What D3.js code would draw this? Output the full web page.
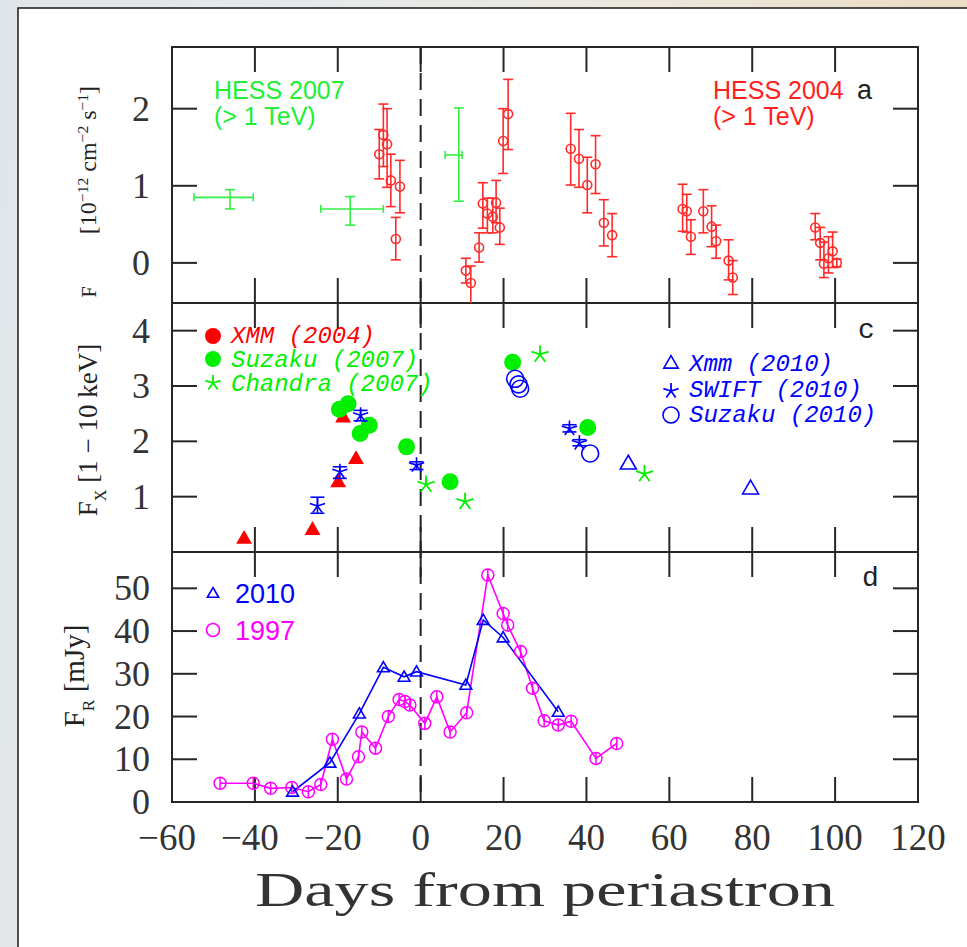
<!DOCTYPE html>
<html>
<head>
<meta charset="utf-8">
<script src="https://cdn.jsdelivr.net/npm/d3@7"></script>
<style>
  html, body { margin: 0; padding: 0; }
  body { width: 967px; height: 947px; overflow: hidden;
    background: linear-gradient(100deg, #dfe5e9 0%, #e6e9ea 30%, #ece6da 60%, #e9d5b6 100%); }
  svg { display: block; }
</style>
</head>
<body>
<svg id="chart"></svg>
<script>
// ---- data ----
const xTicks = [-60, -40, -20, 0, 20, 40, 60, 80, 100, 120];

// panel a: HESS 2004 [day, flux, lo, hi]
const hess2004 = [
  [-10.0, 1.41, 1.09, 1.73], [-9.0, 1.66, 1.25, 2.06], [-8.1, 1.54, 0.98, 2.00],
  [-7.2, 1.07, 0.73, 1.41], [-6.0, 0.31, 0.04, 0.59], [-5.0, 0.99, 0.65, 1.33],
  [10.9, -0.10, -0.26, 0.06], [12.1, -0.26, -0.55, -0.04], [14.1, 0.20, 0.01, 0.39],
  [15.0, 0.77, 0.45, 1.04], [16.1, 0.64, 0.39, 0.84], [17.4, 0.60, 0.39, 0.84],
  [18.2, 0.78, 0.52, 1.07], [19.1, 0.46, 0.24, 0.71], [19.9, 1.58, 1.16, 2.00],
  [21.1, 1.93, 1.47, 2.38], [36.2, 1.48, 1.01, 1.94], [38.2, 1.35, 0.98, 1.73],
  [40.2, 1.01, 0.65, 1.37], [42.2, 1.28, 0.90, 1.65], [44.2, 0.52, 0.22, 0.82],
  [46.2, 0.36, 0.08, 0.64], [63.2, 0.70, 0.41, 1.02], [64.2, 0.67, 0.40, 0.89],
  [65.2, 0.34, 0.11, 0.56], [68.2, 0.67, 0.39, 0.95], [70.2, 0.47, 0.21, 0.74],
  [71.3, 0.28, 0.06, 0.49], [74.3, 0.03, -0.22, 0.30], [75.3, -0.19, -0.41, 0.03],
  [95.2, 0.46, 0.30, 0.64], [96.4, 0.26, 0.04, 0.46], [97.3, -0.01, -0.19, 0.27],
  [98.4, 0.06, -0.13, 0.34], [99.4, 0.15, -0.06, 0.40], [100.4, 0.00, -0.05, 0.05]
];
// panel a: HESS 2007 [day, dayLo, dayHi, flux, lo, hi]
const hess2007 = [
  [-46.0, -54.7, -40.4, 0.85, 0.70, 0.95],
  [-17.0, -24.1, -9.0, 0.70, 0.49, 0.86],
  [9.2, 5.9, 10.0, 1.40, 0.80, 2.01]
];
const aTicks = [0, 1, 2];

// panel c: X-ray flux
const xmm2004 = [[-42.6, 0.25], [-26.1, 0.41], [-19.9, 1.27], [-18.7, 2.44], [-15.6, 1.69]];
const suzaku2007 = [[-19.6, 2.58], [-17.5, 2.68], [-14.6, 2.14], [-12.4, 2.29], [-3.4, 1.90],
  [7.1, 1.27], [22.2, 3.43], [40.3, 2.25]];
const chandra2007 = [[1.3, 1.22], [10.7, 0.91], [28.8, 3.57], [54.0, 1.41]];
const swift2010 = [[-24.9, 0.83, 0.70, 0.99], [-19.5, 1.45, 1.33, 1.54], [-14.5, 2.47, 2.37, 2.56],
  [-1.0, 1.57, 1.49, 1.63], [35.9, 2.23, 2.17, 2.30], [38.3, 1.97, 1.92, 2.03]];
const xmm2010 = [[50.1, 1.60], [79.6, 1.15]];
const suzaku2010 = [[22.8, 3.13], [23.6, 3.03], [24.0, 2.95], [40.9, 1.78]];
const cTicks = [1, 2, 3, 4];

// panel d: radio flux (mJy)
const radio2010 = [[-30.9, 2.4], [-21.9, 9.2], [-14.8, 20.7], [-9.0, 31.5], [-4.0, 29.3],
  [-1.0, 30.5], [10.9, 27.4], [15.1, 42.6], [19.9, 38.5], [33.2, 21.1]];
const radio1997 = [[-48.4, 4.4], [-40.4, 4.4], [-36.2, 3.2], [-31.1, 3.4], [-27.1, 2.4],
  [-24.1, 4.1], [-21.3, 14.7], [-17.9, 5.4], [-15.0, 10.6], [-14.2, 16.4], [-10.9, 12.6],
  [-7.8, 20.0], [-5.2, 24.0], [-3.8, 23.5], [-2.6, 22.7], [1.0, 18.4], [3.9, 24.6],
  [7.1, 16.4], [11.1, 20.9], [16.2, 53.1], [19.9, 44.1], [21.0, 41.4], [24.1, 35.2],
  [27.0, 26.6], [29.8, 19.0], [33.2, 18.0], [36.3, 18.9], [42.3, 10.2], [47.3, 13.7]];
const dTicks = [10, 20, 30, 40, 50];
const dLabels = [0, 10, 20, 30, 40, 50];

// ---- layout ----
const width = 967;
const height = 947;
const left = 172, right = 918;
const tickLen = 25;
const frameColor = "#262626";
const RED = "#ff0000", GREEN = "#00f000", BLUE = "#0000ff", MAGENTA = "#ff00ff";

const xScale = d3.scaleLinear().domain([-60, 120]).range([left, right]);
const yA = d3.scaleLinear().domain([-0.52, 2.8]).range([303, 47]);
const yC = d3.scaleLinear().domain([0, 4.5]).range([552, 303]);
const yD = d3.scaleLinear().domain([0, 58.5]).range([802, 552]);

const svg = d3.select("#chart").attr("width", width).attr("height", height);

// white page with dark border
svg.append("rect").attr("x", 18).attr("y", 8).attr("width", 960).attr("height", 950)
  .attr("fill", "#fff").attr("stroke", "#1a1a1a").attr("stroke-width", 1.5);

function clipFor(id, y) {
  svg.append("clipPath").attr("id", id).append("rect")
    .attr("x", left).attr("y", y.range()[1]).attr("width", right - left)
    .attr("height", y.range()[0] - y.range()[1]);
}

function drawFrame(y, ticks) {
  const g = svg.append("g").attr("stroke", frameColor).attr("stroke-width", 2);
  const top = y.range()[1], bot = y.range()[0];
  g.selectAll("line.xt").data(xTicks.slice(1, -1)).join("line")
    .attr("x1", d => xScale(d)).attr("x2", d => xScale(d))
    .attr("y1", top).attr("y2", top + tickLen);
  g.selectAll("line.xb").data(xTicks.slice(1, -1)).join("line")
    .attr("class", "xb")
    .attr("x1", d => xScale(d)).attr("x2", d => xScale(d))
    .attr("y1", bot).attr("y2", bot - tickLen);
  g.selectAll("line.yl").data(ticks).join("line")
    .attr("class", "yl")
    .attr("x1", left).attr("x2", left + tickLen)
    .attr("y1", d => y(d)).attr("y2", d => y(d));
  g.selectAll("line.yr").data(ticks).join("line")
    .attr("class", "yr")
    .attr("x1", right).attr("x2", right - tickLen)
    .attr("y1", d => y(d)).attr("y2", d => y(d));
  g.append("rect").attr("x", left).attr("y", top)
    .attr("width", right - left).attr("height", bot - top).attr("fill", "none");
}

drawFrame(yA, aTicks);
drawFrame(yC, cTicks);
drawFrame(yD, dTicks);
clipFor("clipA", yA);

// periastron dashed line
svg.append("line")
  .attr("x1", xScale(0)).attr("x2", xScale(0))
  .attr("y1", yA.range()[1]).attr("y2", yD.range()[0])
  .attr("stroke", "#222").attr("stroke-width", 2)
  .attr("stroke-dasharray", "17,9");

// ---- tick labels ----
const tickFont = "'Liberation Serif', 'Times New Roman', serif";
const fmt = d => d < 0 ? "\u2212" + Math.abs(d) : String(d);

svg.append("g").selectAll("text").data(xTicks).join("text")
  .attr("x", d => xScale(d) + (d < 0 ? -5 : 0)).attr("y", 850)
  .attr("text-anchor", "middle")
  .attr("font-family", tickFont).attr("font-size", 37).attr("fill", "#333")
  .text(fmt);

function yLabels(y, values) {
  svg.append("g").selectAll("text").data(values).join("text")
    .attr("x", 150).attr("y", d => y(d) + 12)
    .attr("text-anchor", "end")
    .attr("font-family", tickFont).attr("font-size", 36).attr("fill", "#333")
    .text(d => d);
}
yLabels(yA, aTicks);
yLabels(yC, cTicks);
yLabels(yD, dLabels);

// axis title
svg.append("text")
  .attr("x", 545).attr("y", 906)
  .attr("text-anchor", "middle")
  .attr("font-family", tickFont).attr("font-size", 48).attr("fill", "#333")
  .attr("textLength", 580).attr("lengthAdjust", "spacingAndGlyphs")
  .text("Days from periastron");

// y titles (rotated)
function rotLabel(x, y, size, parts, weight) {
  const t = svg.append("text")
    .attr("transform", `translate(${x},${y}) rotate(-90)`)
    .attr("text-anchor", "middle")
    .attr("font-family", tickFont).attr("font-size", size).attr("fill", "#222")
    .attr("font-weight", weight || "normal");
  parts.forEach(p => {
    const s = t.append("tspan").text(p.t);
    if (p.sup) s.attr("baseline-shift", "super").attr("font-size", size * 0.65);
    if (p.sub) s.attr("baseline-shift", "sub").attr("font-size", size * 0.6);
  });
}
rotLabel(96, 292, 20, [{t: "F"}]);
rotLabel(96, 160, 24, [
  {t: "[10"}, {t: "\u221212", sup: true}, {t: " cm"}, {t: "\u22122", sup: true},
  {t: " s"}, {t: "\u22121", sup: true}, {t: "]"}]);
rotLabel(97, 430, 27, [
  {t: "F"}, {t: "X", sub: true}, {t: " [1 \u2212 10 keV]"}]);
rotLabel(84, 676, 29, [
  {t: "F"}, {t: "R", sub: true}, {t: " [mJy]"}]);

// ---- panel a ----
const gA = svg.append("g").attr("clip-path", "url(#clipA)");
const capA = 5;
gA.selectAll("g.e4").data(hess2004).join("g").each(function (d) {
  const g = d3.select(this);
  const x = xScale(d[0]);
  g.append("line").attr("x1", x).attr("x2", x).attr("y1", yA(d[2])).attr("y2", yA(d[3]));
  g.append("line").attr("x1", x - capA).attr("x2", x + capA).attr("y1", yA(d[2])).attr("y2", yA(d[2]));
  g.append("line").attr("x1", x - capA).attr("x2", x + capA).attr("y1", yA(d[3])).attr("y2", yA(d[3]));
  g.append("circle").attr("cx", x).attr("cy", yA(d[1])).attr("r", 4.5).attr("fill", "none");
}).attr("stroke", "#ff2a2a").attr("stroke-width", 1.6);

gA.selectAll("g.e7").data(hess2007).join("g").each(function (d) {
  const g = d3.select(this);
  const x = xScale(d[0]), y = yA(d[3]);
  g.append("line").attr("x1", xScale(d[1])).attr("x2", xScale(d[2])).attr("y1", y).attr("y2", y);
  g.append("line").attr("x1", xScale(d[1])).attr("x2", xScale(d[1])).attr("y1", y - 4).attr("y2", y + 4);
  g.append("line").attr("x1", xScale(d[2])).attr("x2", xScale(d[2])).attr("y1", y - 4).attr("y2", y + 4);
  g.append("line").attr("x1", x).attr("x2", x).attr("y1", yA(d[4])).attr("y2", yA(d[5]));
  g.append("line").attr("x1", x - 5).attr("x2", x + 5).attr("y1", yA(d[4])).attr("y2", yA(d[4]));
  g.append("line").attr("x1", x - 5).attr("x2", x + 5).attr("y1", yA(d[5])).attr("y2", yA(d[5]));
}).attr("stroke", "#33ee44").attr("stroke-width", 1.6);

const sansFont = "'Liberation Sans', Arial, sans-serif";
function label(x, y, txt, color, size, family, style) {
  svg.append("text").attr("x", x).attr("y", y).text(txt)
    .attr("fill", color).attr("font-size", size)
    .attr("font-family", family || sansFont)
    .attr("font-style", style || "normal");
}
label(214, 99, "HESS 2007", "#22ee33", 25);
label(214, 125, "(> 1 TeV)", "#22ee33", 25);
label(713, 99, "HESS 2004", "#ff2020", 25);
label(713, 125, "(> 1 TeV)", "#ff2020", 25);
label(857, 99, "a", "#222", 27);

// ---- panel c ----
const star5 = (cx, cy, r) => {
  let p = "";
  for (let i = 0; i < 5; i++) {
    const a = (-90 + i * 72) * Math.PI / 180;
    p += `M${cx},${cy}L${cx + r * Math.cos(a)},${cy + r * Math.sin(a)}`;
  }
  return p;
};
const tri = d3.symbol().type(d3.symbolTriangle);

svg.append("g").selectAll("path").data(xmm2004).join("path")
  .attr("transform", d => `translate(${xScale(d[0])},${yC(d[1]) + 1})`)
  .attr("d", tri.size(110)).attr("fill", RED);

svg.append("g").selectAll("circle").data(suzaku2007).join("circle")
  .attr("cx", d => xScale(d[0])).attr("cy", d => yC(d[1])).attr("r", 8.5)
  .attr("fill", GREEN);

svg.append("g").selectAll("path").data(chandra2007).join("path")
  .attr("d", d => star5(xScale(d[0]), yC(d[1]), 9))
  .attr("stroke", GREEN).attr("stroke-width", 1.8).attr("fill", "none");

svg.append("g").selectAll("g").data(swift2010).join("g").each(function (d) {
  const g = d3.select(this);
  const x = xScale(d[0]);
  g.append("path").attr("d", star5(x, yC(d[1]), 8));
  g.append("line").attr("x1", x).attr("x2", x).attr("y1", yC(d[2])).attr("y2", yC(d[3]));
  g.append("line").attr("x1", x - 7).attr("x2", x + 7).attr("y1", yC(d[2])).attr("y2", yC(d[2]));
  g.append("line").attr("x1", x - 7).attr("x2", x + 7).attr("y1", yC(d[3])).attr("y2", yC(d[3]));
}).attr("stroke", BLUE).attr("stroke-width", 1.6).attr("fill", "none");

svg.append("g").selectAll("path").data(xmm2010).join("path")
  .attr("transform", d => `translate(${xScale(d[0])},${yC(d[1]) + 1})`)
  .attr("d", tri.size(110)).attr("fill", "none").attr("stroke", BLUE).attr("stroke-width", 1.6);

svg.append("g").selectAll("circle").data(suzaku2010).join("circle")
  .attr("cx", d => xScale(d[0])).attr("cy", d => yC(d[1])).attr("r", 8.5)
  .attr("fill", "none").attr("stroke", BLUE).attr("stroke-width", 1.6);

// legends panel c
const monoFont = "'Liberation Mono', 'Courier New', monospace";
svg.append("circle").attr("cx", 213).attr("cy", 336).attr("r", 8).attr("fill", RED);
svg.append("circle").attr("cx", 213).attr("cy", 359).attr("r", 8).attr("fill", GREEN);
svg.append("path").attr("d", star5(213, 383, 8)).attr("stroke", GREEN).attr("stroke-width", 1.8);
label(231, 343, "XMM (2004)", RED, 24, monoFont, "italic");
label(231, 367, "Suzaku (2007)", GREEN, 24, monoFont, "italic");
label(231, 391, "Chandra (2007)", GREEN, 24, monoFont, "italic");

svg.append("path").attr("transform", "translate(671,364)").attr("d", tri.size(90))
  .attr("fill", "none").attr("stroke", BLUE).attr("stroke-width", 1.6);
svg.append("path").attr("d", star5(671, 391, 8)).attr("stroke", BLUE).attr("stroke-width", 1.8);
svg.append("circle").attr("cx", 671).attr("cy", 415).attr("r", 8)
  .attr("fill", "none").attr("stroke", BLUE).attr("stroke-width", 1.6);
label(689, 371, "Xmm (2010)", BLUE, 24, monoFont, "italic");
label(689, 397, "SWIFT (2010)", BLUE, 24, monoFont, "italic");
label(689, 422, "Suzaku (2010)", BLUE, 24, monoFont, "italic");
label(858, 338, "c", "#222", 28, monoFont, "normal");

// ---- panel d ----
const line = d3.line().x(d => xScale(d[0])).y(d => yD(d[1]));

svg.append("path").datum(radio1997).attr("d", line)
  .attr("fill", "none").attr("stroke", MAGENTA).attr("stroke-width", 1.6);
svg.append("path").datum(radio2010).attr("d", line)
  .attr("fill", "none").attr("stroke", BLUE).attr("stroke-width", 1.6);

svg.append("g").selectAll("g").data(radio1997).join("g").each(function (d) {
  const g = d3.select(this);
  const x = xScale(d[0]), y = yD(d[1]);
  g.append("circle").attr("cx", x).attr("cy", y).attr("r", 6);
  g.append("line").attr("x1", x).attr("x2", x).attr("y1", y - 6).attr("y2", y + 6);
}).attr("stroke", MAGENTA).attr("stroke-width", 1.5).attr("fill", "none");

svg.append("g").selectAll("path").data(radio2010).join("path")
  .attr("transform", d => `translate(${xScale(d[0])},${yD(d[1]) + 1})`)
  .attr("d", tri.size(60)).attr("fill", "none").attr("stroke", BLUE).attr("stroke-width", 1.6);

svg.append("path").attr("transform", "translate(213,594)").attr("d", tri.size(55))
  .attr("fill", "none").attr("stroke", BLUE).attr("stroke-width", 1.6);
svg.append("circle").attr("cx", 213).attr("cy", 630).attr("r", 6.5)
  .attr("fill", "none").attr("stroke", MAGENTA).attr("stroke-width", 1.6);
label(235, 603, "2010", BLUE, 27);
label(235, 640, "1997", MAGENTA, 27);
label(862, 586, "d", "#222", 28, monoFont, "normal");
</script>
</body>
</html>
